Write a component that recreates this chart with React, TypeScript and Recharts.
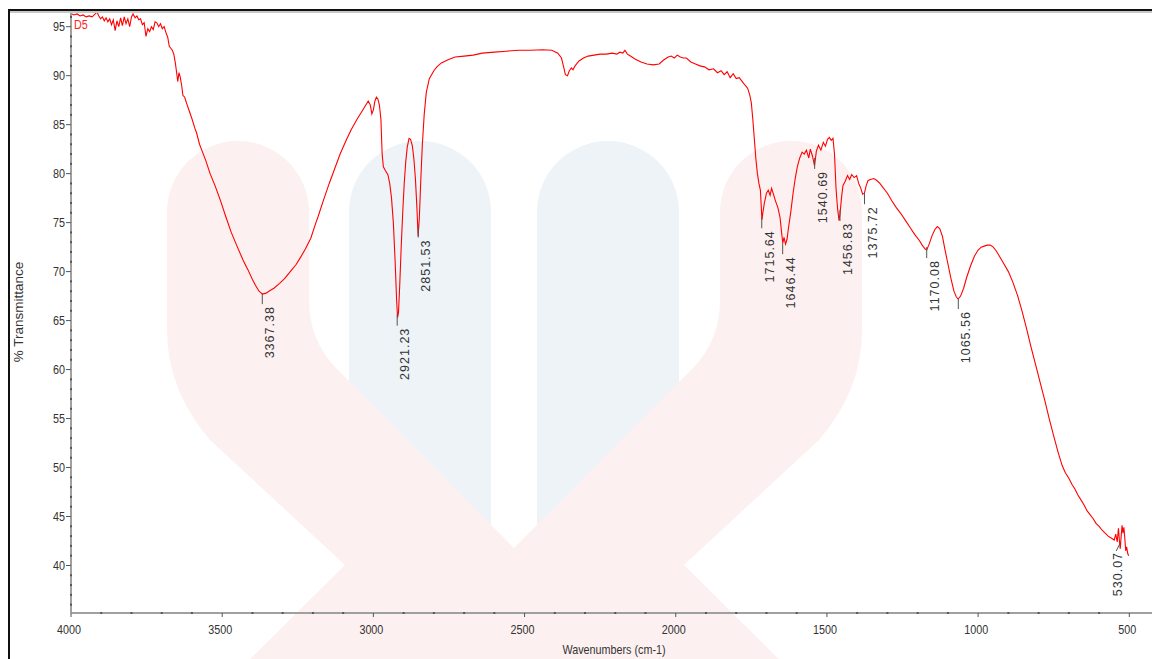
import React from 'react';
import { ComposedChart, Line, Scatter, XAxis, YAxis } from 'recharts';

// ---- spectrum (wavenumber cm-1, % transmittance) ----
const spectrumWavenumbers = [
  3997, 3990, 3980, 3970, 3960, 3950, 3940, 3930, 3920, 3914,
  3908, 3902, 3896, 3890, 3884, 3878, 3872, 3866, 3860, 3854,
  3848, 3842, 3836, 3830, 3824, 3818, 3812, 3806, 3800, 3795,
  3788, 3782, 3776, 3770, 3764, 3758, 3752, 3746, 3740, 3734,
  3728, 3722, 3716, 3710, 3704, 3698, 3692, 3686, 3680, 3675,
  3670, 3665, 3660, 3655, 3651, 3647, 3643, 3639, 3634, 3630,
  3624, 3618, 3610, 3600, 3590, 3585, 3575, 3565, 3555, 3540,
  3524, 3505, 3488, 3470, 3451, 3430, 3415, 3400, 3390, 3378,
  3367, 3355, 3340, 3329, 3310, 3293, 3275, 3256, 3240, 3225,
  3207, 3190, 3183, 3165, 3146, 3128, 3110, 3090, 3073, 3055,
  3037, 3025, 3017, 3010, 3005, 3000, 2995, 2990, 2985, 2980,
  2975, 2971, 2967, 2960, 2952, 2946, 2940, 2934, 2928, 2923,
  2920, 2917, 2913, 2908, 2903, 2898, 2893, 2888, 2882, 2877,
  2871, 2866, 2861, 2856, 2852, 2848, 2843, 2838, 2832, 2825,
  2815, 2800, 2790, 2775, 2755, 2730, 2700, 2670, 2640, 2600,
  2560, 2520, 2480, 2440, 2410, 2390, 2378, 2370, 2365, 2358,
  2352, 2345, 2340, 2333, 2320, 2305, 2290, 2270, 2250, 2230,
  2210, 2195, 2185, 2175, 2168, 2160, 2150, 2135, 2115, 2095,
  2075, 2055, 2040, 2025, 2015, 2005, 1995, 1985, 1975, 1965,
  1950, 1935, 1920, 1905, 1890, 1875, 1862, 1850, 1840, 1830,
  1820, 1810, 1800, 1790, 1780, 1770, 1762, 1755, 1750, 1745,
  1740, 1735, 1730, 1725, 1720, 1715, 1712, 1707, 1700, 1694,
  1688, 1683, 1677, 1670, 1662, 1655, 1650, 1646, 1642, 1637,
  1632, 1627, 1620, 1612, 1605, 1598, 1590, 1582, 1575, 1568,
  1560, 1555, 1548, 1541, 1535, 1528, 1520, 1512, 1505, 1498,
  1492, 1486, 1480, 1475, 1470, 1465, 1460, 1457, 1452, 1447,
  1440, 1432, 1425, 1418, 1410, 1402, 1395, 1388, 1382, 1376,
  1370, 1364, 1356, 1345, 1335, 1325, 1315, 1300, 1285, 1270,
  1255, 1240, 1225, 1210, 1195, 1185, 1175, 1170, 1162, 1152,
  1143, 1135, 1127, 1118, 1110, 1100, 1090, 1080, 1072, 1066,
  1058, 1048, 1038, 1025, 1012, 1000, 990, 980, 970, 960,
  950, 940, 930, 915, 900, 885, 870, 855, 840, 825,
  810, 795, 780, 765, 750, 735, 722, 712, 700, 690,
  680, 670, 660, 650, 640, 630, 620, 610, 600, 590,
  580, 570, 560, 550, 545, 540, 536, 533, 530, 527,
  524, 521, 518, 515, 512, 509, 505, 502,
];

const spectrumTransmittance = [
  96.3, 96.2, 96.3, 96.1, 96.2, 96.0, 96.1, 96.0, 96.3, 96.5,
  96.1, 95.8, 96.0, 95.6, 95.9, 95.5, 95.8, 95.2, 95.7, 94.6,
  95.6, 95.0, 95.9, 95.1, 96.0, 95.3, 95.8, 95.0, 96.0, 96.3,
  95.9, 96.1, 95.7, 95.8, 95.2, 95.4, 94.0, 94.8, 94.5, 95.0,
  94.7, 95.5, 95.4, 95.0, 95.3, 94.8, 95.0, 94.4, 93.9, 93.0,
  92.8, 92.6, 92.2, 91.3, 90.4, 89.4, 90.3, 89.9, 89.0, 88.0,
  87.8, 87.2, 86.5, 85.6, 84.6, 84.2, 83.0, 82.2, 81.4, 80.0,
  78.8, 77.2, 75.6, 74.0, 72.6, 71.1, 70.2, 69.2, 68.6, 68.0,
  67.7, 67.8, 68.1, 68.3, 68.8, 69.3, 70.0, 70.7, 71.5, 72.3,
  73.4, 75.0, 75.6, 77.3, 79.0, 80.5, 82.0, 83.4, 84.5, 85.5,
  86.4, 87.0, 87.4, 87.0, 86.1, 86.5, 87.4, 87.8, 87.6, 87.0,
  85.5, 82.0, 80.7, 80.3, 79.9, 79.0, 77.5, 75.0, 71.0, 67.0,
  65.3, 65.8, 68.5, 72.5, 76.0, 79.0, 81.2, 82.7, 83.6, 83.5,
  82.8, 81.5, 79.5, 76.5, 73.6, 75.5, 79.5, 83.0, 86.0, 88.3,
  89.7, 90.5, 90.9, 91.3, 91.6, 91.9, 92.0, 92.1, 92.3, 92.4,
  92.5, 92.6, 92.6, 92.65, 92.6, 92.3, 91.8, 90.8, 90.1, 90.0,
  90.5, 90.8, 90.6, 91.0, 91.5, 91.8, 92.0, 92.1, 92.2, 92.2,
  92.3, 92.2, 92.4, 92.3, 92.6, 92.2, 92.0, 91.7, 91.4, 91.2,
  91.1, 91.2, 91.6, 91.9, 92.0, 91.8, 92.1, 91.9, 91.8, 91.8,
  91.4, 91.2, 91.0, 90.9, 90.6, 90.7, 90.3, 90.5, 90.1, 90.4,
  89.8, 90.2, 89.7, 89.8, 89.4, 89.0, 88.7, 88.0, 87.2, 85.5,
  83.5, 81.5, 80.0, 79.0, 78.3, 75.3, 76.0, 77.0, 78.0, 78.3,
  77.8, 78.5, 77.9, 77.2, 76.5, 75.5, 74.0, 72.9, 73.5, 72.8,
  73.3, 74.5, 76.0, 78.0, 79.5, 80.7, 81.6, 82.2, 82.0, 82.4,
  81.6, 82.5, 81.8, 80.8, 82.3, 82.9, 82.4, 83.2, 82.8, 83.5,
  83.7, 83.4, 83.6, 82.0, 78.5, 76.5, 75.2, 75.8, 77.5, 78.8,
  79.2, 79.8, 79.4, 79.9, 79.6, 79.8, 79.0, 78.5, 77.9, 78.0,
  78.8, 79.3, 79.4, 79.5, 79.3, 79.0, 78.6, 78.0, 77.2, 76.5,
  75.9, 75.2, 74.5, 73.8, 73.2, 72.7, 72.3, 72.2, 72.8, 73.7,
  74.3, 74.6, 74.4, 73.6, 72.3, 70.8, 69.3, 68.0, 67.4, 67.2,
  67.5, 68.3, 69.4, 70.6, 71.6, 72.2, 72.5, 72.6, 72.7, 72.7,
  72.5, 72.1, 71.6, 70.8, 70.0, 68.9, 67.6, 66.0, 64.2, 62.3,
  60.5, 58.7, 56.9, 55.0, 53.2, 51.5, 50.2, 49.5, 48.9, 48.3,
  47.8, 47.2, 46.7, 46.2, 45.6, 45.2, 44.8, 44.3, 44.0, 43.6,
  43.3, 43.0, 42.8, 42.6, 43.2, 42.4, 43.8, 42.6, 41.7, 43.0,
  44.1, 43.3, 43.9, 42.8, 41.5, 41.9, 41.2, 41.0,
];

// ---- peak annotations ----
const peakWavenumbers = [3367.38, 2921.23, 2851.53, 1715.64, 1646.44, 1540.69, 1456.83, 1375.72, 1170.08, 1065.56, 530.07];
const peakTransmittance = [67.8, 65.6, 74.6, 75.55, 72.9, 81.6, 76.3, 78.0, 72.5, 67.3, 42.3];
const peakLabels = ['3367.38', '2921.23', '2851.53', '1715.64', '1646.44', '1540.69', '1456.83', '1375.72', '1170.08', '1065.56', '530.07'];

// ---- axes ----
const xMajorTicks = [4000, 3500, 3000, 2500, 2000, 1500, 1000, 500];
const yMajorTicks = [40, 45, 50, 55, 60, 65, 70, 75, 80, 85, 90, 95];
const xDomain = [425, 4000];
const yDomain = [35.15, 96.5];
const xAllTicks: number[] = [];
for (let v = 500; v <= 4000; v += 100) xAllTicks.push(v);
const yAllTicks: number[] = [];
for (let v = 36; v <= 96; v += 1) yAllTicks.push(v);

const seriesName = 'D5';
const xTitle = 'Wavenumbers (cm-1)';
const yTitle = '% Transmittance';

const data = spectrumWavenumbers.map((wn, i) => ({ wn, t: spectrumTransmittance[i] }));
const peaks = peakWavenumbers.map((wn, i) => ({ wn, t: peakTransmittance[i], label: peakLabels[i] }));

const W = 1152;
const H = 659;
const SANS = '"Liberation Sans", Arial, sans-serif';
const NARROW_SCALE = 0.83;

function NarrowText(props: any) {
  const { x, y, anchor, size, fill, children } = props;
  return (
    <text
      transform={`translate(${x}, ${y}) scale(${NARROW_SCALE}, 1)`}
      x={0}
      y={0}
      textAnchor={anchor}
      fontFamily={SANS}
      fontSize={size}
      fill={fill}
    >
      {children}
    </text>
  );
}

function YTick(props: any) {
  const { x, y, payload } = props;
  const v = payload.value;
  if (yMajorTicks.includes(v)) {
    return (
      <g>
        <line x1={x - 5} y1={y} x2={x} y2={y} stroke="#555" strokeWidth={1} />
        <NarrowText x={x - 6} y={y + 4.5} anchor="end" size={13} fill="#333">{v}</NarrowText>
      </g>
    );
  }
  return <rect x={x - 1} y={y - 1} width={2} height={2} fill="#555" />;
}

function XTick(props: any) {
  const { x, y, payload } = props;
  const v = payload.value;
  if (xMajorTicks.includes(v)) {
    return (
      <g>
        <line x1={x} y1={y} x2={x} y2={y + 4} stroke="#555" strokeWidth={1} />
        <NarrowText x={x - 2} y={y + 21} anchor="middle" size={13} fill="#333">{v}</NarrowText>
      </g>
    );
  }
  return <rect x={x - 1} y={y - 1} width={2} height={2} fill="#555" />;
}

function PeakMark(props: any) {
  const { cx, cy, payload } = props;
  if (cx == null || cy == null) return <g />;
  const edge = payload.wn < 600;
  if (edge) {
    return (
      <g>
        <line x1={cx} y1={cy} x2={cx - 4} y2={cy + 8} stroke="#555" strokeWidth={1} />
        <text transform={`translate(${cx + 2}, ${cy + 9}) rotate(-90)`} textAnchor="end" fontFamily={SANS} fontSize={12.5} letterSpacing={1} fill="#333">{payload.label}</text>
      </g>
    );
  }
  return (
    <g>
      <line x1={cx} y1={cy} x2={cx} y2={cy + 11} stroke="#555" strokeWidth={1} />
      <text transform={`translate(${cx + 12}, ${cy + 13}) rotate(-90)`} textAnchor="end" fontFamily={SANS} fontSize={12.5} letterSpacing={1} fill="#333">{payload.label}</text>
    </g>
  );
}

function Watermark() {
  const pink = '#fdf0f0';
  const blue = '#eef3f8';
  return (
    <svg width={W} height={H} style={{ position: 'absolute', left: 0, top: 0 }}>
      <path d="M349,212 A71,71 0 0 1 491,212 L491,700 L349,700 Z" fill={blue} />
      <path d="M537,212 A71,71 0 0 1 679,212 L679,700 L537,700 Z" fill={blue} />
      <path
        d="M167,212 A71,71 0 0 1 309,212 L309,300 Q309,340 336,368 L514,548 L693,368 Q720,340 720,300 L720,212 A71,71 0 0 1 862,212 L862,330 Q862,390 819,440 L684,565 L820,700 L209,700 L345,565 L210,440 Q167,390 167,330 Z"
        fill={pink}
      />
    </svg>
  );
}

function Overlay() {
  return (
    <svg width={W} height={H} style={{ position: 'absolute', left: 0, top: 0, pointerEvents: 'none' }}>
      <rect x={8} y={11} width={W - 8} height={2} fill="#c8c8c8" />
      <rect x={8} y={9} width={W - 8} height={2} fill="#111" />
      <rect x={8} y={9} width={2} height={H - 9} fill="#111" />
      <NarrowText x={74} y={29} anchor="start" size={13} fill="#ff2020">{seriesName}</NarrowText>
      <NarrowText x={614} y={654} anchor="middle" size={13} fill="#333">{xTitle}</NarrowText>
      <text transform="translate(23, 312) rotate(-90)" textAnchor="middle" fontFamily={SANS} fontSize={13.5} fill="#333">{yTitle}</text>
    </svg>
  );
}

export default function App() {
  return (
    <div style={{ position: 'absolute', left: 0, top: 0, width: W, height: H, overflow: 'hidden', background: '#fff' }}>
      <Watermark />
      <div style={{ position: 'absolute', left: 0, top: 0 }}>
        <ComposedChart width={W} height={H} data={data} margin={{ top: 12, right: 0, bottom: 0, left: 0 }}>
          <XAxis
            dataKey="wn"
            type="number"
            domain={xDomain}
            reversed
            allowDataOverflow
            ticks={xAllTicks}
            interval={0}
            height={46}
            tickSize={0}
            tickMargin={0}
            tickLine={false}
            axisLine={{ stroke: '#a0a0a0', strokeWidth: 2 }}
            tick={<XTick />}
          />
          <YAxis
            type="number"
            domain={yDomain}
            allowDataOverflow
            ticks={yAllTicks}
            interval={0}
            width={71}
            tickSize={0}
            tickMargin={0}
            tickLine={false}
            axisLine={{ stroke: '#a0a0a0', strokeWidth: 2 }}
            tick={<YTick />}
          />
          <Line dataKey="t" type="linear" stroke="#ff0000" strokeWidth={1.1} dot={false} isAnimationActive={false} />
          <Scatter data={peaks} dataKey="t" shape={<PeakMark />} isAnimationActive={false} />
        </ComposedChart>
      </div>
      <Overlay />
    </div>
  );
}
